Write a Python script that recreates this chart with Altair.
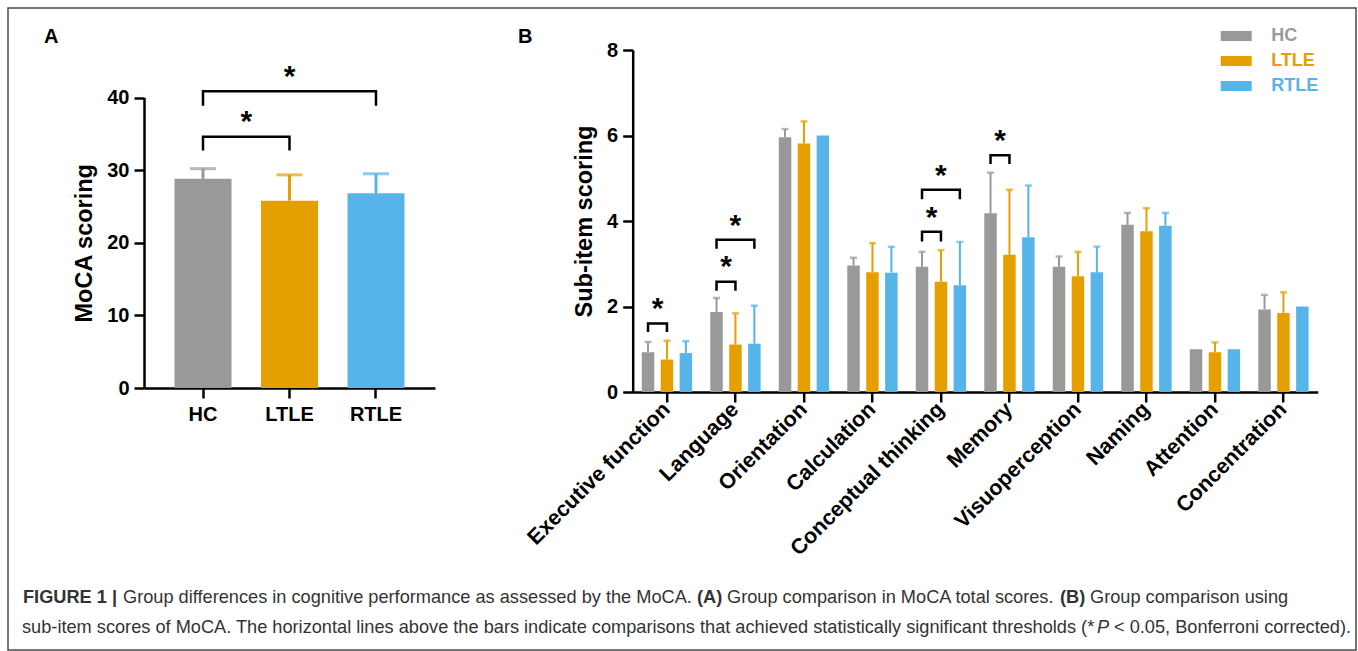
import altair as alt
import pandas as pd

FONT = "Liberation Sans"

groups = ["HC", "LTLE", "RTLE"]
colors = ["#999999", "#E69F00", "#56B4E9"]

# ---- Panel A: MoCA total scores ----
total_mean = [28.8, 25.8, 26.8]
total_upper = [30.2, 29.35, 29.5]
a_to = ["LTLE", "RTLE"]
a_level = [34.58, 40.87]
a_low = [32.89, 39.04]
a_star = [37.19, 43.38]

# ---- Panel B: sub-item scores ----
items = ["Executive function", "Language", "Orientation", "Calculation",
         "Conceptual thinking", "Memory", "Visuoperception", "Naming",
         "Attention", "Concentration"]
hc_mean = [0.93, 1.87, 5.96, 2.96, 2.93, 4.18, 2.93, 3.91, 1.0, 1.93]
hc_upper = [1.17, 2.2, 6.15, 3.14, 3.28, 5.13, 3.17, 4.19, 1.0, 2.27]
ltle_mean = [0.76, 1.11, 5.81, 2.8, 2.58, 3.21, 2.71, 3.76, 0.93, 1.85]
ltle_upper = [1.2, 1.84, 6.33, 3.48, 3.32, 4.73, 3.28, 4.3, 1.16, 2.33]
rtle_mean = [0.91, 1.13, 6.0, 2.79, 2.5, 3.62, 2.8, 3.89, 1.0, 2.0]
rtle_upper = [1.19, 2.02, 6.0, 3.4, 3.51, 4.83, 3.4, 4.19, 1.0, 2.0]

b_item = ["Executive function", "Language", "Language",
          "Conceptual thinking", "Conceptual thinking", "Memory"]
b_to = ["LTLE", "LTLE", "RTLE", "LTLE", "RTLE", "LTLE"]
b_level = [1.60, 2.58, 3.56, 3.75, 4.73, 5.54]
b_low = [1.43, 2.40, 3.38, 3.55, 4.54, 5.36]
b_star = [2.04, 3.02, 3.98, 4.17, 5.15, 5.96]

caption1 = ["FIGURE 1 |", "Group differences in cognitive performance as assessed by the MoCA.",
            "(A)", "Group comparison in MoCA total scores.", "(B)", "Group comparison using"]
caption1_w = ["bold", "normal", "bold", "normal", "bold", "normal"]
caption2 = ["sub-item scores of MoCA. The horizontal lines above the bars indicate comparisons "
            "that achieved statistically significant thresholds (*",
            "P", "< 0.05, Bonferroni corrected)."]
caption2_s = ["normal", "italic", "normal"]

# ---------------- tables ----------------
dfA = pd.DataFrame({"Group": groups, "mean": total_mean, "upper": total_upper})
dfA_err = dfA[dfA["upper"] > dfA["mean"]]

br_rows = []
for i, (to, lev, low) in enumerate(zip(a_to, a_level, a_low)):
    for s, (g, v) in enumerate([("HC", low), ("HC", lev), (to, lev), (to, low)]):
        br_rows.append({"bid": i, "seq": s, "Group": g, "v": v})
dfA_br = pd.DataFrame(br_rows)
dfA_star = pd.DataFrame({"to": a_to, "v": a_star,
                         "Group": ["HC" if t == "LTLE" else "LTLE" for t in a_to]})

rowsB = []
for g, m, u in [("HC", hc_mean, hc_upper), ("LTLE", ltle_mean, ltle_upper), ("RTLE", rtle_mean, rtle_upper)]:
    for it, mm, uu in zip(items, m, u):
        rowsB.append({"Item": it, "Group": g, "mean": mm, "upper": uu})
dfB = pd.DataFrame(rowsB)
dfB_err = dfB[dfB["upper"] > dfB["mean"] + 0.001]

brb = []
for i, (it, to, lev, low) in enumerate(zip(b_item, b_to, b_level, b_low)):
    for s, (g, v) in enumerate([("HC", low), ("HC", lev), (to, lev), (to, low)]):
        brb.append({"bid": i, "seq": s, "Item": it, "Group": g, "v": v})
dfB_br = pd.DataFrame(brb)
dfB_star = pd.DataFrame({"Item": b_item, "to": b_to, "v": b_star,
                         "Group": ["HC" if t == "LTLE" else "LTLE" for t in b_to]})

# ---------------- Panel A ----------------
WA, HA = 291, 338
axis_common = dict(labelFont=FONT, labelFontWeight="bold", labelColor="black",
                   tickSize=10, tickWidth=2.5, tickColor="black", domainColor="black",
                   domainWidth=2.5, grid=False)

def xA():
    return alt.X("Group:N", sort=groups,
                 scale=alt.Scale(domain=groups, paddingInner=0.341, paddingOuter=0.3526),
                 axis=alt.Axis(title=None, labelAngle=0, labelPadding=6, labelFontSize=20,
                               **axis_common))

def yA(field):
    return alt.Y(field, type="quantitative",
                 scale=alt.Scale(domain=[0, 40], range=[HA, 47.5], nice=False),
                 axis=alt.Axis(title="MoCA scoring", values=[0, 10, 20, 30, 40], labelPadding=5,
                               labelFontSize=20,
                               titleFont=FONT, titleFontSize=23.5, titleFontWeight="bold",
                               titleColor="black", titlePadding=10, **axis_common))

colA = alt.Color("Group:N", scale=alt.Scale(domain=groups, range=colors), legend=None)

STAR = dict(text="*", font=FONT, fontSize=30, fontWeight="bold", baseline="middle", dy=4,
            color="black")

barsA = alt.Chart(dfA).mark_bar().encode(x=xA(), y=yA("mean"), color=colA)
ruleA = alt.Chart(dfA_err).mark_rule(strokeWidth=3).encode(x=xA(), y=yA("mean"), y2="upper", color=colA)
capA = alt.Chart(dfA_err).mark_tick(size=26, thickness=3).encode(x=xA(), y=yA("upper"), color=colA)
brA = alt.Chart(dfA_br).mark_line(color="black", strokeWidth=2.5, strokeJoin="miter", strokeCap="square").encode(
    x=xA(), y=yA("v"), detail="bid:N", order="seq:Q")
starA1 = alt.Chart(dfA_star[dfA_star["to"] == "LTLE"]).mark_text(dx=43.25, **STAR).encode(
    x=xA(), y=yA("v"))
starA2 = alt.Chart(dfA_star[dfA_star["to"] == "RTLE"]).mark_text(**STAR).encode(
    x=xA(), y=yA("v"))

one = pd.DataFrame({"k": [0]})
# decorations: frame, panel letters, caption (pixel offsets relative to panel A origin)
frame = alt.Chart(one).mark_rect(filled=False, stroke="#4a4a4a", strokeWidth=1.5).encode(
    x=alt.value(-136), x2=alt.value(1212), y=alt.value(-42), y2=alt.value(600))
letters = [alt.Chart(one).mark_text(font=FONT, fontSize=20, fontWeight="bold", align="left",
                                    baseline="alphabetic", color="black").encode(
    x=alt.value(px), y=alt.value(-7), text=alt.value(t)) for t, px in [("A", -100), ("B", 374)]]

CAP_SIZE = 18.2
cap1_x = [-121, -21, 553, 583, 916, 946]
cap_marks = []
for t, w, px in zip(caption1, caption1_w, cap1_x):
    cap_marks.append(alt.Chart(one).mark_text(font=FONT, fontSize=CAP_SIZE, fontWeight=w, align="left",
                                              baseline="alphabetic", color="#333333").encode(
        x=alt.value(px), y=alt.value(553), text=alt.value(t)))
cap2_x = [-122, 953, 970]
for t, s, px in zip(caption2, caption2_s, cap2_x):
    cap_marks.append(alt.Chart(one).mark_text(font=FONT, fontSize=CAP_SIZE, fontStyle=s, align="left",
                                              baseline="alphabetic", color="#333333").encode(
        x=alt.value(px), y=alt.value(583), text=alt.value(t)))

panelA = alt.layer(frame, barsA, ruleA, capA, brA, starA1, starA2, *letters, *cap_marks).properties(
    width=WA, height=HA)

# ---------------- Panel B ----------------
WB, HB = 685, 342

def xB():
    return alt.X("Item:N", sort=items,
                 scale=alt.Scale(domain=items, paddingInner=0, paddingOuter=0),
                 axis=alt.Axis(title=None, labelAngle=-45, labelAlign="right", labelBaseline="middle",
                               labelPadding=4, labelLimit=400, labelFontSize=21.5, **axis_common))

xoB = alt.XOffset("Group:N", sort=groups,
                  scale=alt.Scale(domain=groups, paddingInner=0.34, paddingOuter=0.48))

def yB(field):
    return alt.Y(field, type="quantitative",
                 scale=alt.Scale(domain=[0, 8], nice=False),
                 axis=alt.Axis(title="Sub-item scoring", values=[0, 2, 4, 6, 8], labelPadding=5,
                               labelFontSize=20,
                               titleFont=FONT, titleFontSize=23.5, titleFontWeight="bold",
                               titleColor="black", titlePadding=10, **axis_common))

label_color = alt.ExprRef(
    "datum.label == 'HC' ? '#999999' : (datum.label == 'LTLE' ? '#E69F00' : '#56B4E9')")
colB = alt.Color("Group:N", scale=alt.Scale(domain=groups, range=colors),
                 legend=alt.Legend(title=None, orient="none", legendX=594.5, legendY=-23,
                                   symbolType="M-2,-0.65H2V0.65H-2Z", symbolSize=240,
                                   symbolStrokeWidth=0, labelFont=FONT, labelFontSize=18,
                                   labelFontWeight="bold", labelColor=label_color,
                                   labelOffset=26, rowPadding=7))
colB_nolegend = alt.Color("Group:N", scale=alt.Scale(domain=groups, range=colors), legend=None)

barsB = alt.Chart(dfB).mark_bar().encode(x=xB(), xOffset=xoB, y=yB("mean"), color=colB)
ruleB = alt.Chart(dfB_err).mark_rule(strokeWidth=2).encode(
    x=xB(), xOffset=xoB, y=yB("mean"), y2="upper", color=colB_nolegend)
capB = alt.Chart(dfB_err).mark_tick(size=7, thickness=2.5).encode(
    x=xB(), xOffset=xoB, y=yB("upper"), color=colB_nolegend)
brB = alt.Chart(dfB_br).mark_line(color="black", strokeWidth=2.5, strokeJoin="miter", strokeCap="square").encode(
    x=xB(), xOffset=xoB, y=yB("v"), detail="bid:N", order="seq:Q")
starB1 = alt.Chart(dfB_star[dfB_star["to"] == "LTLE"]).mark_text(dx=9.46, **STAR).encode(
    x=xB(), xOffset=xoB, y=yB("v"))
starB2 = alt.Chart(dfB_star[dfB_star["to"] == "RTLE"]).mark_text(**STAR).encode(
    x=xB(), xOffset=xoB, y=yB("v"))

panelB = alt.layer(barsB, ruleB, capB, brB, starB1, starB2).properties(width=WB, height=HB)

chart = alt.hconcat(panelA, panelB, spacing=197.7, bounds="flush").resolve_scale(
    color="independent").properties(
    padding={"left": 7, "top": 7, "right": 0, "bottom": 0}, background="white"
).configure_view(stroke=None)

chart.save("out.html", embed_options={"renderer": "svg", "actions": False})
